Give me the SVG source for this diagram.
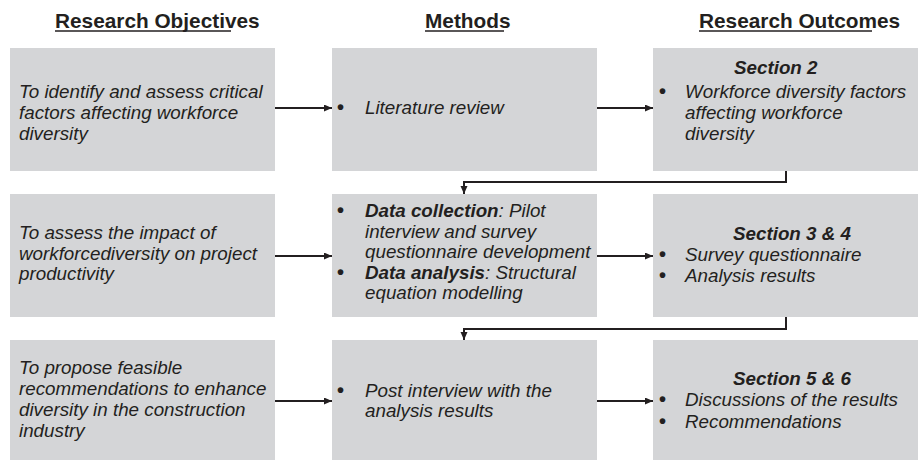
<svg xmlns="http://www.w3.org/2000/svg" width="918" height="460" viewBox="0 0 918 460">
<style>
.box{fill:#d4d5d7}
.t{font-family:"Liberation Sans",Arial,sans-serif;font-size:18.8px;font-style:italic;fill:#231f20}
.b{font-weight:bold}
.bul{font-style:normal;font-weight:bold;font-size:20px}
.h{font-family:"Liberation Sans",Arial,sans-serif;font-size:20.8px;font-weight:bold;fill:#231f20}
.ul{stroke:#231f20;stroke-width:1.6}
.c{fill:none;stroke:#231f20;stroke-width:2}
</style>
<defs>
<marker id="ah" markerUnits="userSpaceOnUse" markerWidth="9" markerHeight="8" refX="8" refY="3.5" orient="auto">
<path d="M0,0 L8,3.5 L0,7 z" fill="#231f20"/>
</marker>
</defs>
<g id="headers">
<text class="h" x="55" y="27.5">Research Objectives</text>
<line class="ul" x1="55" y1="31" x2="231" y2="31"/>
<text class="h" x="425" y="27.5">Methods</text>
<line class="ul" x1="425" y1="31" x2="504" y2="31"/>
<text class="h" x="699" y="27.5">Research Outcomes</text>
<line class="ul" x1="699" y1="31" x2="872" y2="31"/>
</g>
<g id="obj1">
<rect class="box" x="10" y="48" width="265" height="123"/>
<text class="t" x="19"><tspan x="19" y="98">To identify and assess critical</tspan><tspan x="19" y="119">factors affecting workforce</tspan><tspan x="19" y="139.5">diversity</tspan></text>
</g>
<g id="meth1">
<rect class="box" x="332" y="48" width="265" height="123"/>
<text class="t bul" x="337" y="114">•</text>
<text class="t" x="365" y="114">Literature review</text>
</g>
<g id="out1">
<rect class="box" x="653" y="48" width="265" height="123"/>
<text class="t b" x="734" y="74">Section 2</text>
<text class="t bul" x="659" y="98">•</text>
<text class="t"><tspan x="685" y="98">Workforce diversity factors</tspan><tspan x="685" y="119">affecting workforce</tspan><tspan x="685" y="139.5">diversity</tspan></text>
</g>
<g id="obj2">
<rect class="box" x="10" y="194" width="265" height="123"/>
<text class="t"><tspan x="19" y="238.5">To assess the impact of</tspan><tspan x="19" y="259.5">workforcediversity on project</tspan><tspan x="19" y="280">productivity</tspan></text>
</g>
<g id="meth2">
<rect class="box" x="332" y="194" width="265" height="123"/>
<text class="t bul" x="337" y="217">•</text>
<text class="t" x="365" y="217"><tspan class="b">Data collection</tspan>: Pilot</text>
<text class="t"><tspan x="365" y="237.5">interview and survey</tspan><tspan x="365" y="258">questionnaire development</tspan></text>
<text class="t bul" x="337" y="278.5">•</text>
<text class="t" x="365" y="278.5"><tspan class="b">Data analysis</tspan>: Structural</text>
<text class="t" x="365" y="299">equation modelling</text>
</g>
<g id="out2">
<rect class="box" x="653" y="194" width="265" height="123"/>
<text class="t b" x="733" y="239.5">Section 3 &amp; 4</text>
<text class="t bul" x="659" y="260.5">•</text>
<text class="t" x="685" y="260.5">Survey questionnaire</text>
<text class="t bul" x="659" y="281.5">•</text>
<text class="t" x="685" y="281.5">Analysis results</text>
</g>
<g id="obj3">
<rect class="box" x="10" y="340" width="265" height="120"/>
<text class="t"><tspan x="19" y="374">To propose feasible</tspan><tspan x="19" y="395">recommendations to enhance</tspan><tspan x="19" y="416">diversity in the construction</tspan><tspan x="19" y="436.5">industry</tspan></text>
</g>
<g id="meth3">
<rect class="box" x="332" y="340" width="265" height="120"/>
<text class="t bul" x="337" y="396.5">•</text>
<text class="t"><tspan x="365" y="396.5">Post interview with the</tspan><tspan x="365" y="417">analysis results</tspan></text>
</g>
<g id="out3">
<rect class="box" x="653" y="340" width="265" height="120"/>
<text class="t b" x="733" y="384.5">Section 5 &amp; 6</text>
<text class="t bul" x="659" y="406">•</text>
<text class="t" x="685" y="406">Discussions of the results</text>
<text class="t bul" x="659" y="427.5">•</text>
<text class="t" x="685" y="427.5">Recommendations</text>
</g>
<g id="connectors">
<line class="c" x1="275" y1="108" x2="332" y2="108" marker-end="url(#ah)"/>
<line class="c" x1="597" y1="108" x2="653" y2="108" marker-end="url(#ah)"/>
<line class="c" x1="275" y1="256" x2="332" y2="256" marker-end="url(#ah)"/>
<line class="c" x1="597" y1="256" x2="653" y2="256" marker-end="url(#ah)"/>
<line class="c" x1="275" y1="401" x2="332" y2="401" marker-end="url(#ah)"/>
<line class="c" x1="597" y1="401" x2="653" y2="401" marker-end="url(#ah)"/>
<polyline class="c" points="786,171 786,182 464,182 464,194" marker-end="url(#ah)"/>
<polyline class="c" points="786,317 786,329 464,329 464,340" marker-end="url(#ah)"/>
</g>
</svg>
